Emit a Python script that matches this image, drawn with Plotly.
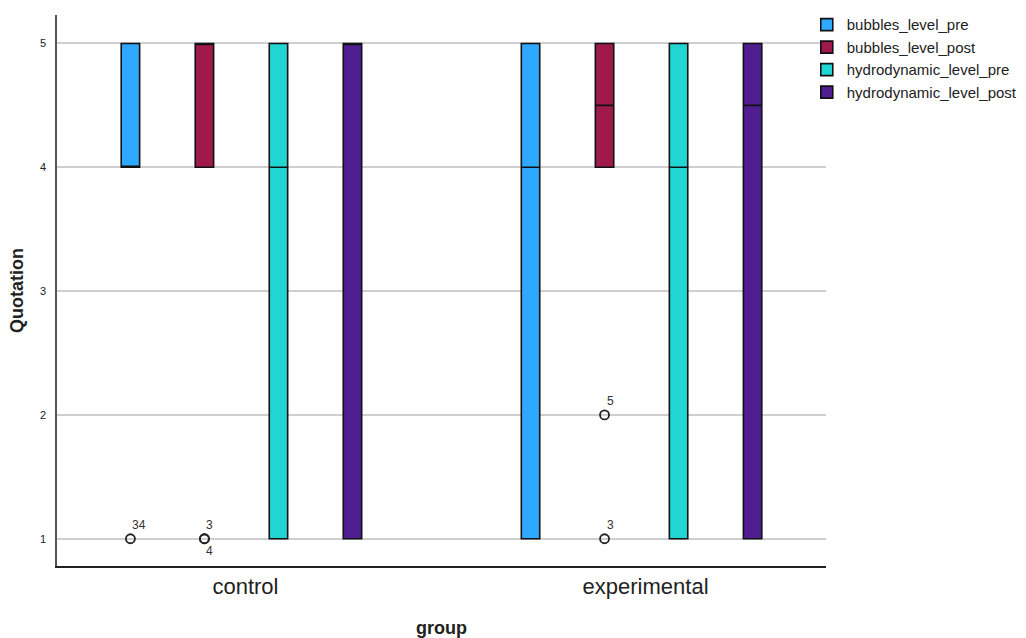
import plotly.graph_objects as go

groups = ["control", "experimental"]
series = ["bubbles_level_pre", "bubbles_level_post", "hydrodynamic_level_pre", "hydrodynamic_level_post"]
colors = ["#2fa9ff", "#a0194b", "#21d6d2", "#501e91"]

# per series: values for [control, experimental]
q1 = {
    "bubbles_level_pre": [4, 1],
    "bubbles_level_post": [4, 4],
    "hydrodynamic_level_pre": [1, 1],
    "hydrodynamic_level_post": [1, 1],
}
median = {
    "bubbles_level_pre": [4, 4],
    "bubbles_level_post": [5, 4.5],
    "hydrodynamic_level_pre": [4, 4],
    "hydrodynamic_level_post": [5, 4.5],
}
q3 = {
    "bubbles_level_pre": [5, 5],
    "bubbles_level_post": [5, 5],
    "hydrodynamic_level_pre": [5, 5],
    "hydrodynamic_level_post": [5, 5],
}
# outliers: (series, group index, value, label, label position)
outliers = [
    ("bubbles_level_pre", 0, 1, "34", "top"),
    ("bubbles_level_post", 0, 1, "3", "top"),
    ("bubbles_level_post", 0, 1, "4", "bottom"),
    ("bubbles_level_post", 1, 2, "5", "top"),
    ("bubbles_level_post", 1, 1, "3", "top"),
]
y_ticks = [1, 2, 3, 4, 5]

slot = 0.185
box_w = 0.046

def xpos(g, k):
    return g + (k - 1.5) * slot

FONT = "Liberation Sans, Arial, sans-serif"

fig = go.Figure()
for k, s in enumerate(series):
    xs = [xpos(g, k) for g in range(len(groups))]
    fig.add_trace(go.Box(
        name=s, x=xs, q1=q1[s], median=median[s], q3=q3[s],
        lowerfence=q1[s], upperfence=q3[s],
        fillcolor=colors[k], line=dict(color="#111111", width=1.6),
        width=box_w, whiskerwidth=0, boxpoints=False, showlegend=True,
        hoverinfo="skip",
    ))

for s, g, v, lab, pos in outliers:
    k = series.index(s)
    x = xpos(g, k)
    fig.add_trace(go.Scatter(
        x=[x], y=[v], mode="markers", showlegend=False,
        marker=dict(symbol="circle-open", size=9, color="#222222", line=dict(width=1.8)),
        hoverinfo="skip",
    ))
    fig.add_annotation(
        x=x, y=v, text=lab, showarrow=False,
        xanchor="left", yanchor="bottom" if pos == "top" else "top",
        xshift=0, yshift=5 if pos == "top" else -3,
        font=dict(size=12, color="#333333", family=FONT),
    )

fig.update_layout(
    width=1026, height=638,
    margin=dict(l=57, r=200, t=15, b=72, autoexpand=False),
    paper_bgcolor="white", plot_bgcolor="white",
    font=dict(family=FONT, color="#222222"),
    legend=dict(
        x=0.975, xanchor="left", y=1.012, yanchor="top",
        bgcolor="rgba(0,0,0,0)",
        font=dict(size=15, color="#222222", family=FONT),
        tracegroupgap=0, itemwidth=30,
    ),
    xaxis=dict(
        range=[-0.461, 1.461], tickvals=[0.01, 1.01], ticktext=groups,
        showgrid=False, zeroline=False, showline=True, linecolor="#222222", linewidth=1.5,
        ticks="", tickfont=dict(size=22, color="#222222"), automargin=False,
        title=dict(text="<b>group</b>", font=dict(size=18, color="#222222"), standoff=30),
    ),
    yaxis=dict(
        range=[0.78, 5.23], tickvals=y_ticks,
        showgrid=True, gridcolor="#cfcfcf", gridwidth=1.5, zeroline=False,
        showline=True, linecolor="#555555", linewidth=1.5,
        ticks="", tickfont=dict(size=11, color="#222222"), ticklabelstandoff=7,
        automargin=False,
        title=dict(text="<b>Quotation</b>", font=dict(size=18, color="#222222"), standoff=12),
    ),
)

fig.write_html(
    "out.html",
    config={"displayModeBar": False},
    post_script="document.body.style.margin='0';document.body.style.overflow='hidden';",
)
